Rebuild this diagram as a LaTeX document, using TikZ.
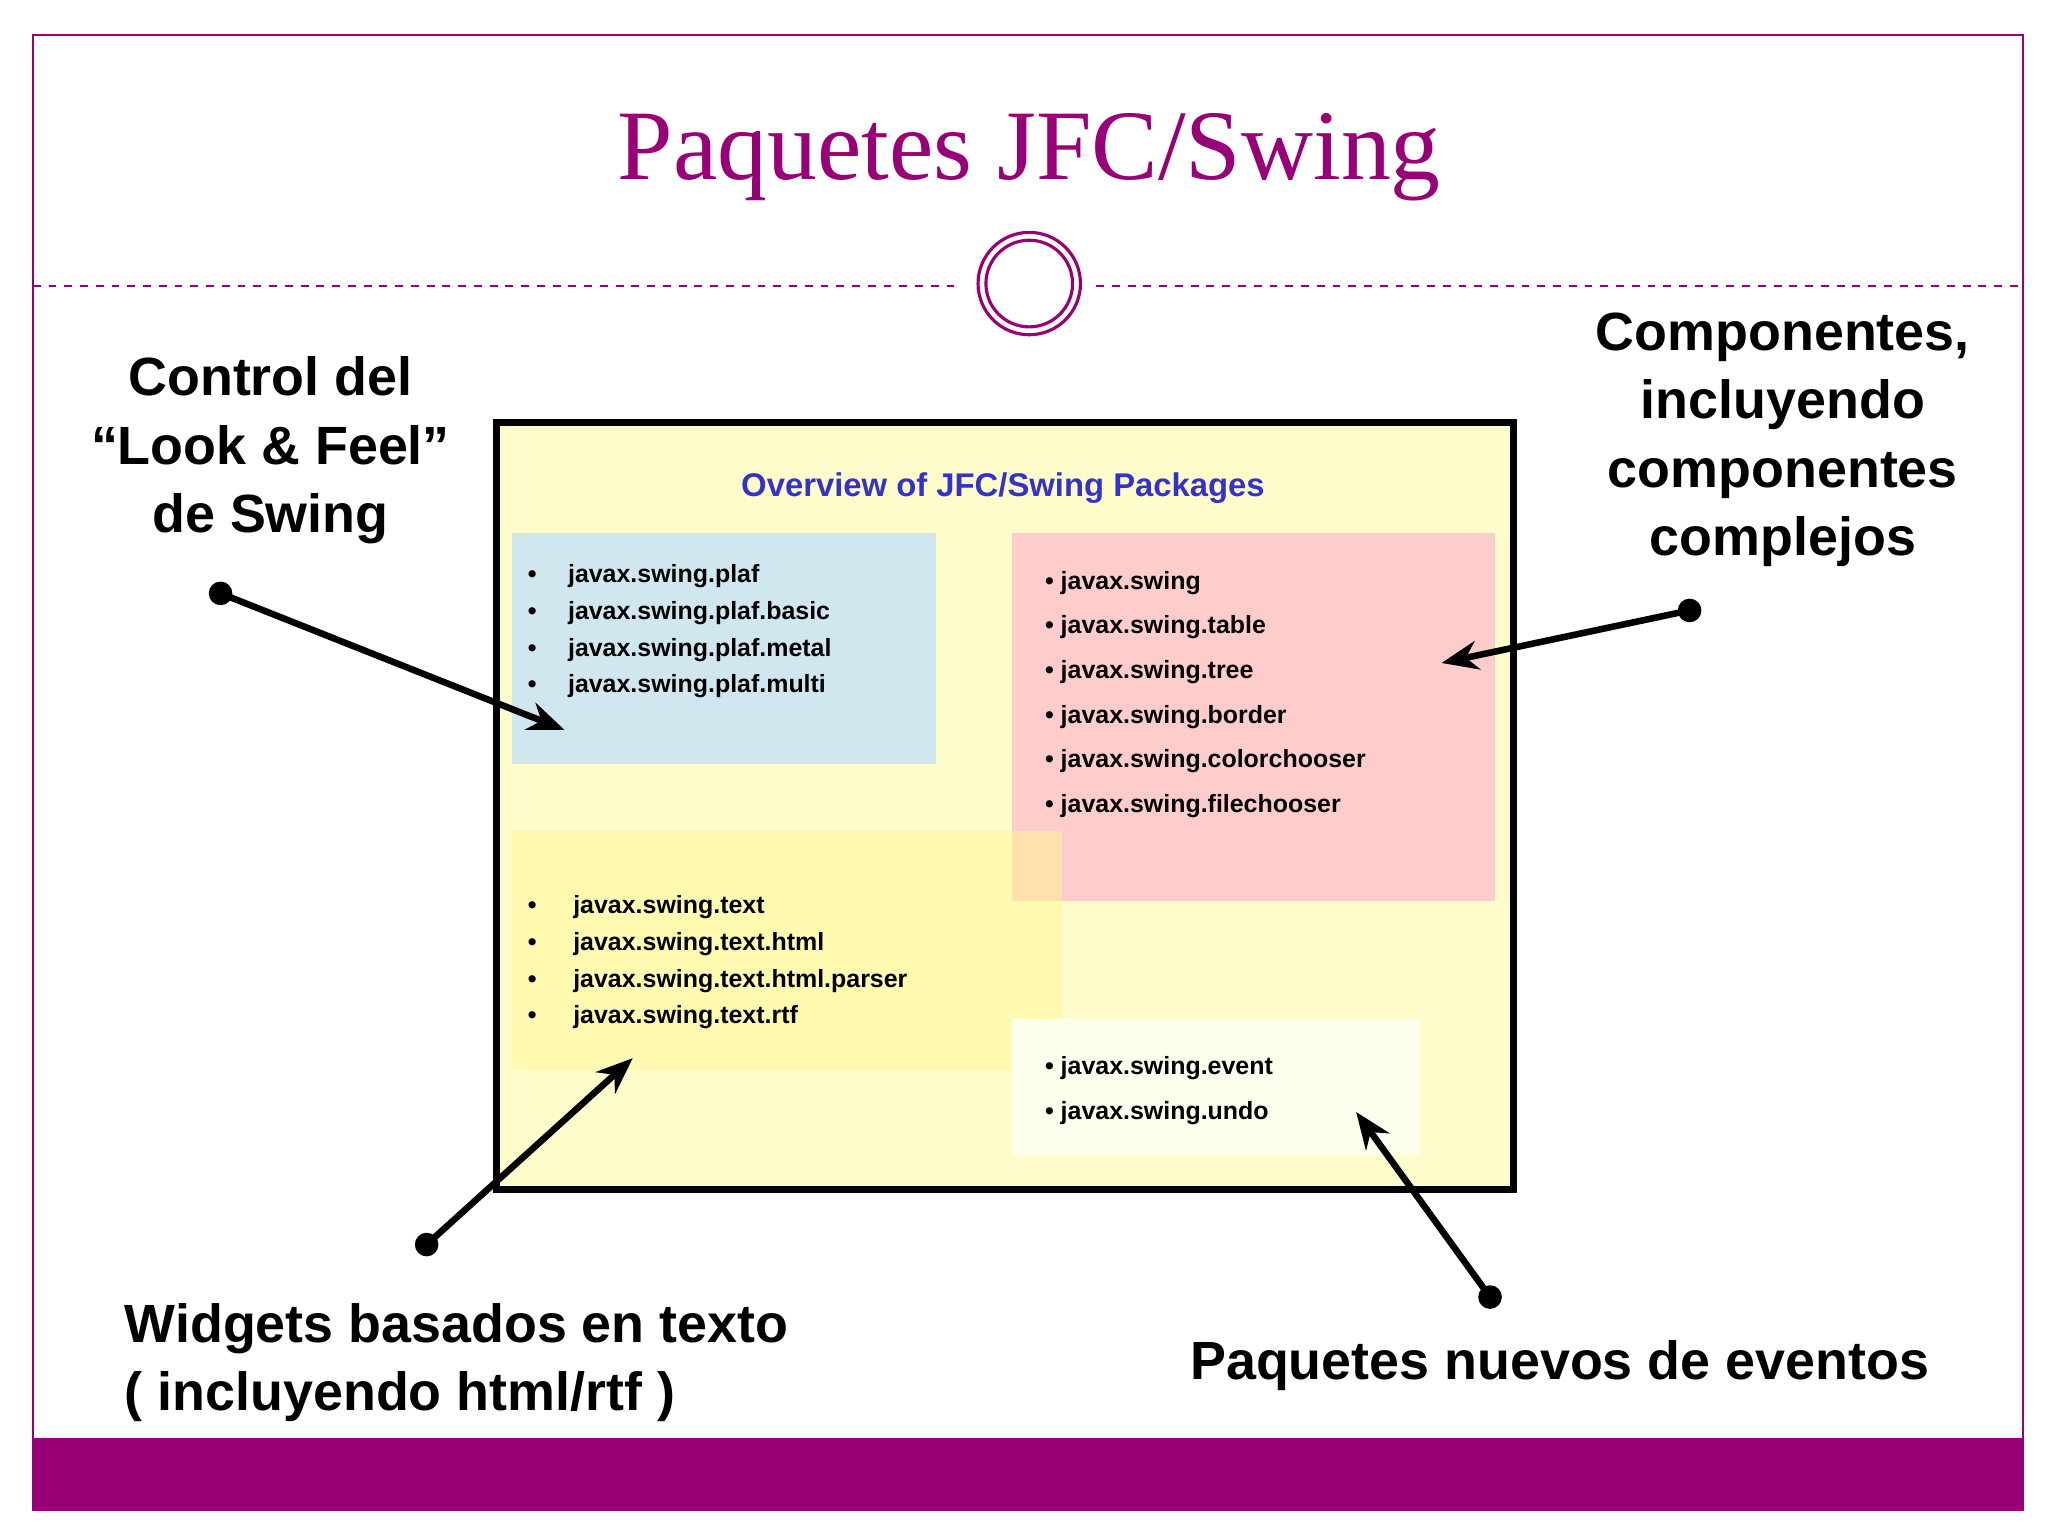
\documentclass[tikz,border=0pt]{standalone}
\usepackage{fontspec}
\setmainfont{Liberation Sans}
\newfontfamily\serifx{Liberation Serif}
\usetikzlibrary{arrows.meta}
\definecolor{pur}{HTML}{990077}
\definecolor{ovb}{HTML}{3333CC}
\tikzset{
  box/.style={draw=none,inner sep=0pt},
  lbl/.style={font=\bfseries\fontsize{20.5}{26}\selectfont,align=center},
  item/.style={font=\bfseries\fontsize{9.5}{14}\selectfont,align=left,anchor=north west},
  arr/.style={line width=2.5pt,-{Stealth[length=14pt,width=11pt]}},
  dot/.style={circle,fill=black,inner sep=0pt,minimum size=9pt}
}
\begin{document}
\begin{tikzpicture}[x=0.5pt,y=-0.5pt]
\useasboundingbox (0,0) rectangle (1560,1170);
\fill[white] (0,0) rectangle (1560,1170);
\draw[pur,line width=0.8pt] (25,27) rectangle (1541,1150);
\fill[pur] (25,1095) rectangle (1541,1150);
\draw[pur,dashed,line width=0.6pt] (25,218) -- (730,218);
\draw[pur,dashed,line width=0.6pt] (835,218) -- (1541,218);
\node[circle,draw=pur,line width=1.2pt,minimum size=39pt,inner sep=0pt] (c1) at (784,216) {};
\node[circle,draw=pur,line width=1.2pt,minimum size=33pt,inner sep=0pt] (c2) at (784,216) {};
\node[text=pur,font=\serifx\fontsize{38}{40}\selectfont] (title) at (784,120) {Paquetes JFC/Swing};
% big box
\draw[line width=2.6pt,fill=yellow!20] (378,322) rectangle (1153,906);
\node[text=ovb,font=\bfseries\fontsize{12.5}{14}\selectfont] (ov) at (764,372) {Overview of JFC/Swing Packages};
\fill[cyan!40!teal!20] (390,406) rectangle (713,582);
\fill[red!20] (771,406) rectangle (1139,686);
\fill[yellow!45,opacity=0.45] (390,633) rectangle (809,815);
\fill[green!12!yellow!8] (771,776) rectangle (1082,880);
\node[item] (t1) at (395,423) {•\hspace{12pt}javax.swing.plaf\\•\hspace{12pt}javax.swing.plaf.basic\\•\hspace{12pt}javax.swing.plaf.metal\\•\hspace{12pt}javax.swing.plaf.multi};
\node[item,font=\bfseries\fontsize{9.5}{17}\selectfont] (t2) at (789,428) {• javax.swing\\• javax.swing.table\\• javax.swing.tree\\• javax.swing.border\\• javax.swing.colorchooser\\• javax.swing.filechooser};
\node[item] (t3) at (395,675) {•\hspace{14pt}javax.swing.text\\•\hspace{14pt}javax.swing.text.html\\•\hspace{14pt}javax.swing.text.html.parser\\•\hspace{14pt}javax.swing.text.rtf};
\node[item,font=\bfseries\fontsize{9.5}{17}\selectfont] (t4) at (789,798) {• javax.swing.event\\• javax.swing.undo};
% labels
\node[lbl] (l1) at (206,343) {Control del\\“Look \& Feel”\\de Swing};
\node[lbl] (l2) at (1358,335) {Componentes,\\incluyendo\\componentes\\complejos};
\node[lbl,align=left,anchor=west] (l3) at (88,1038) {Widgets basados en texto\\( incluyendo html/rtf )};
\node[lbl] (l4) at (1188,1040) {Paquetes nuevos de eventos};
% arrows
\node[dot] (d1) at (168,452) {};
\coordinate (e1) at (430,556);
\node[dot] (d2) at (1287,465) {};
\coordinate (e2) at (1098,505);
\node[dot] (d3) at (325,948) {};
\coordinate (e3) at (482,806);
\node[dot] (d4) at (1135,988) {};
\coordinate (e4) at (1033,847);
\draw[arr] (d1.center) -- (e1);
\draw[arr] (d2.center) -- (e2);
\draw[arr] (d3.center) -- (e3);
\draw[arr] (d4.center) -- (e4);
\end{tikzpicture}
\end{document}
